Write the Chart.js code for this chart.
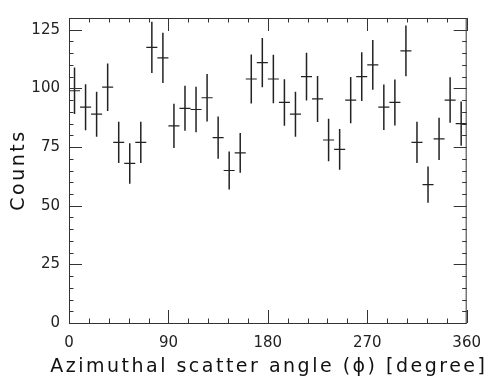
<!DOCTYPE html>
<html>
<head>
<meta charset="utf-8">
<script src="https://cdn.jsdelivr.net/npm/chart.js@4/dist/chart.umd.min.js"></script>
<style>
  body { margin: 0; background: #fff; }
  canvas { display: block; }
</style>
</head>
<body>
<canvas id="phiChart" width="492" height="385"></canvas>
<script>
// bin centres (degrees), counts and their errors
const angles = [5, 15, 25, 35, 45, 55, 65, 75, 85, 95, 105, 115, 125, 135, 145, 155, 165, 175,
                185, 195, 205, 215, 225, 235, 245, 255, 265, 275, 285, 295, 305, 315, 325, 335, 345, 355];
const counts = [99, 92, 89, 100.5, 77, 68, 77, 117.5, 113, 84, 91.5, 91, 96, 79, 65, 72.5, 104, 111,
                104, 94, 89, 105, 95.5, 78, 74, 95, 105, 110, 92, 94, 116, 77, 59, 78.5, 95, 85];
const errors = [9.9, 9.8, 9.6, 10.1, 8.8, 8.6, 8.8, 10.9, 10.7, 9.4, 9.6, 9.7, 10.1, 9.0, 8.1, 8.5, 10.4, 10.5,
                10.3, 9.9, 9.6, 10.2, 9.8, 9.1, 8.7, 9.9, 10.4, 10.6, 9.7, 9.8, 10.8, 8.8, 7.7, 9.0, 9.7, 9.4];
const binHalfWidth = 5;

const xTicks = [0, 90, 180, 270, 360];
const yTicks = [0, 25, 50, 75, 100, 125];
const xMinorStep = 18;
const yMinorStep = 5;

const xTitle = "Azimuthal scatter angle (\u03D5) [degree]";
const yTitle = "Counts";

// error crosses, frame with inward ticks, and the axis titles
const crossPlugin = {
    id: "crosses",
    afterDatasetsDraw(chart) {
        const { ctx, chartArea: a } = chart;
        const x = chart.scales.x;
        const y = chart.scales.y;
        ctx.save();
        ctx.beginPath();
        ctx.rect(a.left, a.top, a.right - a.left, a.bottom - a.top);
        ctx.clip();
        ctx.strokeStyle = "#222";
        for (let i = 0; i < angles.length; i++) {
            const px = x.getPixelForValue(angles[i]);
            const py = y.getPixelForValue(counts[i]);
            ctx.lineWidth = 1.5;
            ctx.beginPath();
            ctx.moveTo(px, y.getPixelForValue(counts[i] - errors[i]));
            ctx.lineTo(px, y.getPixelForValue(counts[i] + errors[i]));
            ctx.stroke();
            ctx.lineWidth = 1.2;
            ctx.beginPath();
            ctx.moveTo(x.getPixelForValue(angles[i] - binHalfWidth), py);
            ctx.lineTo(x.getPixelForValue(angles[i] + binHalfWidth), py);
            ctx.stroke();
        }
        ctx.restore();
    },
    afterDraw(chart) {
        const { ctx, chartArea: a } = chart;
        const x = chart.scales.x;
        const y = chart.scales.y;
        ctx.save();
        ctx.strokeStyle = "#333";
        ctx.lineWidth = 1;
        ctx.strokeRect(a.left + 0.5, a.top + 0.5, a.right - a.left - 1, a.bottom - a.top);

        const line = (x1, y1, x2, y2) => {
            ctx.beginPath();
            ctx.moveTo(x1, y1);
            ctx.lineTo(x2, y2);
            ctx.stroke();
        };
        for (let v = x.min; v <= x.max; v += xMinorStep) {
            const len = xTicks.includes(v) ? 13 : 4.5;
            const px = Math.round(x.getPixelForValue(v)) + 0.5;
            line(px, a.bottom, px, a.bottom - len);
            line(px, a.top, px, a.top + len);
        }
        for (let v = y.min; v <= y.max; v += yMinorStep) {
            const len = yTicks.includes(v) ? 13 : 4.5;
            const py = Math.round(y.getPixelForValue(v)) + 0.5;
            line(a.left, py, a.left + len, py);
            line(a.right, py, a.right - len, py);
        }

        // titles, spaced out like the original
        ctx.fillStyle = "#111";
        ctx.font = "19px 'DejaVu Sans'";
        ctx.letterSpacing = "2.5px";
        ctx.textAlign = "center";
        ctx.textBaseline = "alphabetic";
        ctx.fillText(xTitle, (a.left + a.right) / 2 + 1, 372);
        ctx.translate(19, 170);
        ctx.rotate(-Math.PI / 2);
        ctx.textBaseline = "middle";
        ctx.fillText(yTitle, 0, 0);
        ctx.restore();
    }
};

const points = angles.map((a, i) => ({ x: a, y: counts[i] }));

new Chart(document.getElementById("phiChart"), {
    type: "scatter",
    data: {
        datasets: [{
            data: points,
            pointRadius: 0,
            pointHoverRadius: 0
        }]
    },
    options: {
        responsive: false,
        animation: false,
        devicePixelRatio: 1,
        layout: { padding: { top: 6, right: 24, left: 0, bottom: 0 } },
        plugins: { legend: { display: false }, tooltip: { enabled: false } },
        scales: {
            x: {
                type: "linear",
                min: 0,
                max: 360,
                grid: { display: false, drawTicks: false },
                border: { display: false },
                afterBuildTicks: (s) => { s.ticks = xTicks.map(v => ({ value: v })); },
                afterFit: (s) => { s.height = 62; },
                ticks: {
                    autoSkip: false,
                    maxRotation: 0,
                    padding: 11,
                    color: "#222",
                    font: { family: "'DejaVu Sans'", size: 15 }
                }
            },
            y: {
                min: 0,
                max: 130,
                grid: { display: false, drawTicks: false },
                border: { display: false },
                afterBuildTicks: (s) => { s.ticks = yTicks.map(v => ({ value: v })); },
                afterFit: (s) => { s.width = 69; },
                ticks: {
                    padding: 9,
                    color: "#222",
                    font: { family: "'DejaVu Sans'", size: 15 }
                }
            }
        }
    },
    plugins: [crossPlugin]
});
</script>
</body>
</html>
